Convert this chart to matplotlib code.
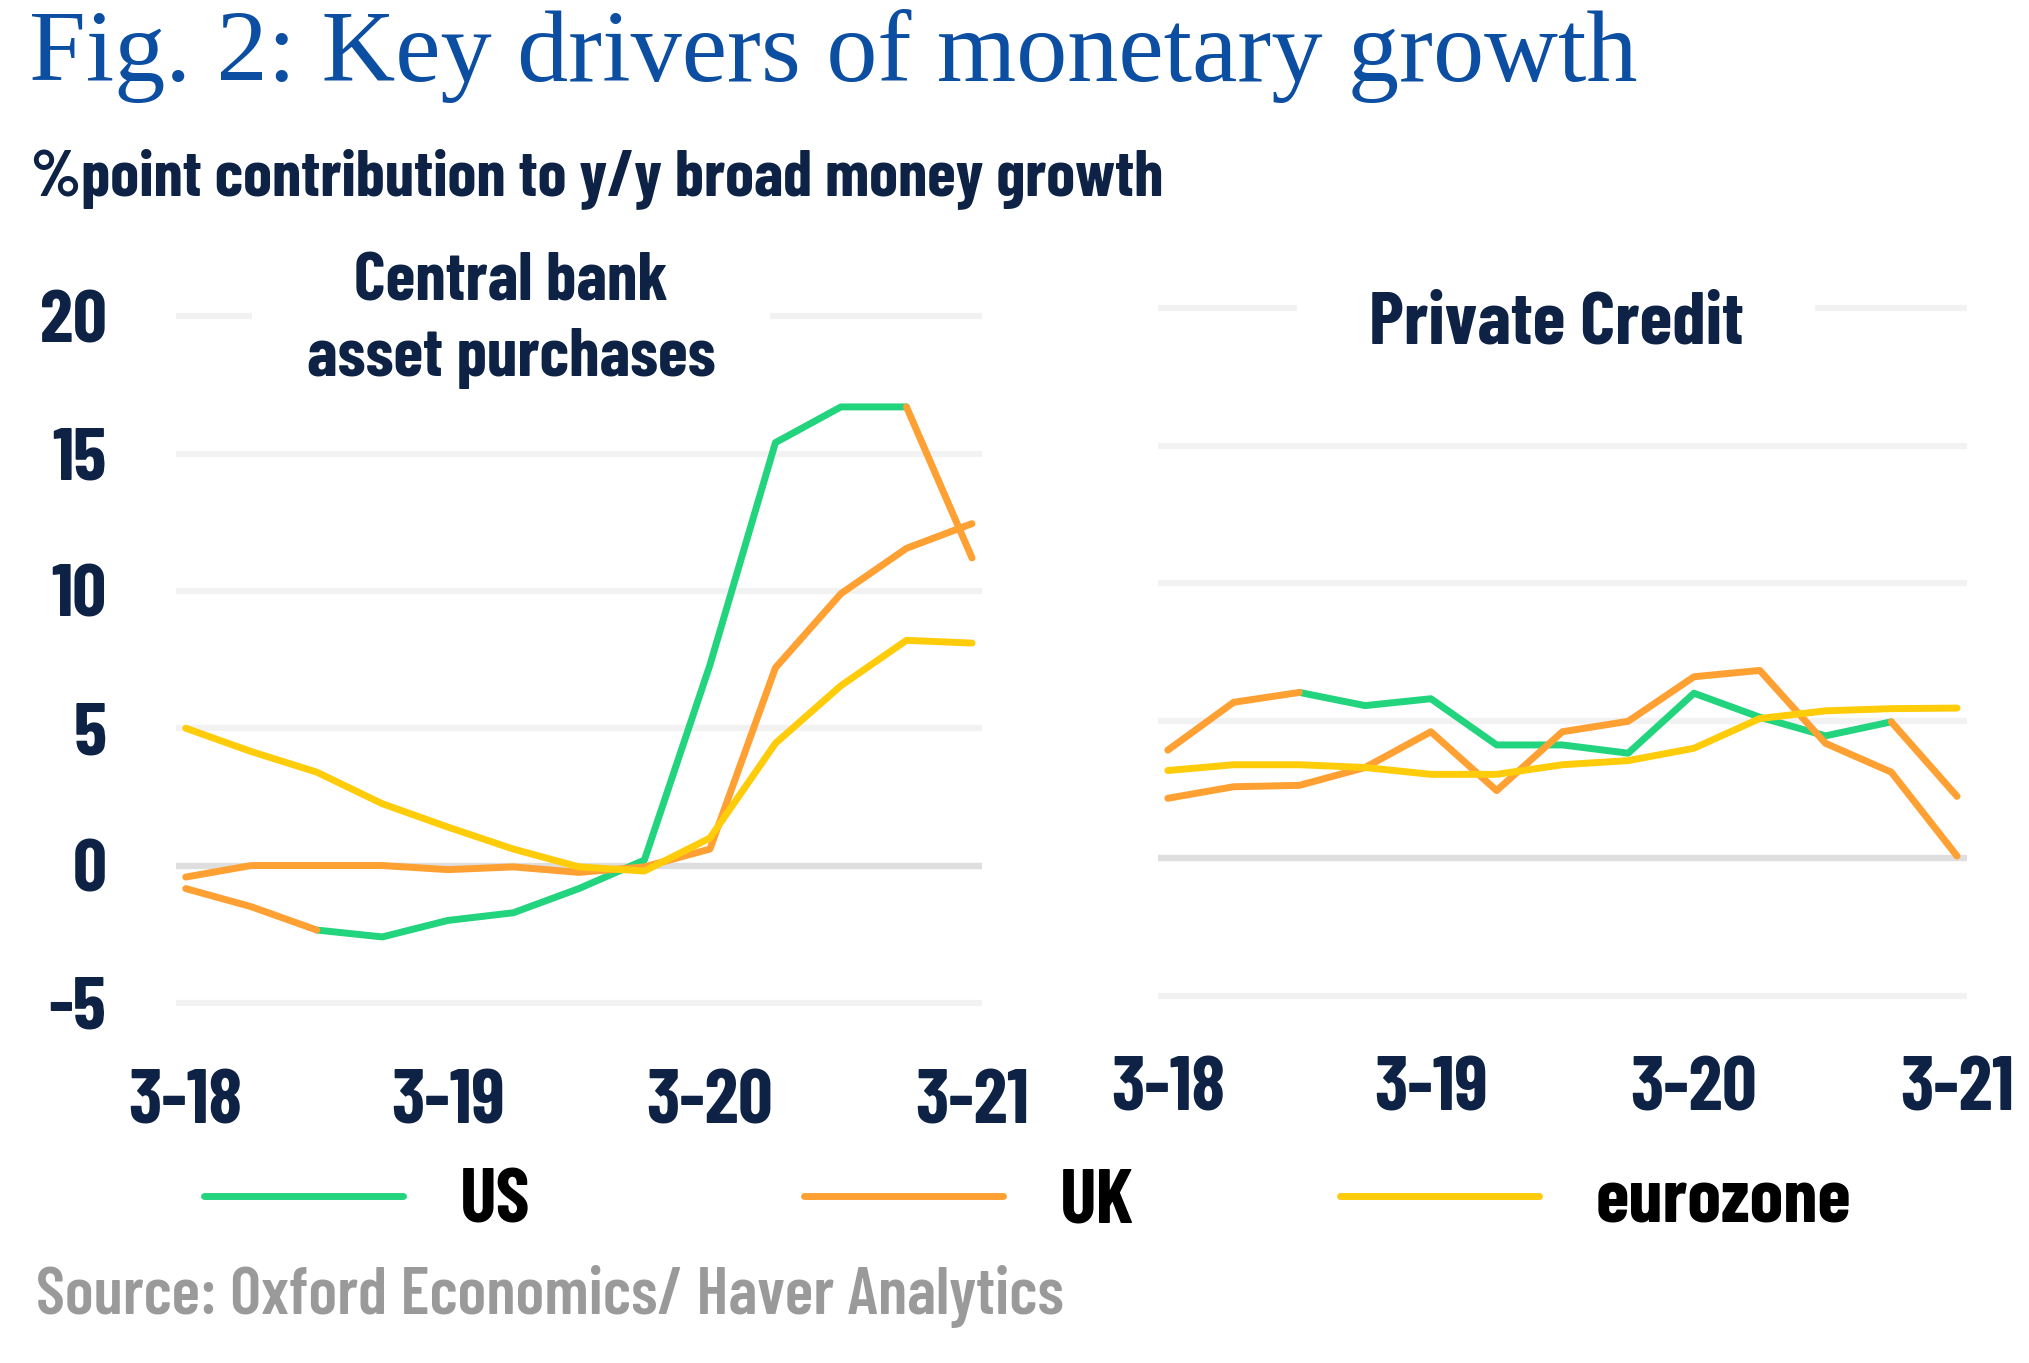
import matplotlib
matplotlib.use('Agg')
import matplotlib.pyplot as plt

# Quarter labels (month-year), 2018Q1 .. 2021Q1
quarters = ['3-18', '6-18', '9-18', '12-18', '3-19', '6-19', '9-19', '12-19',
            '3-20', '6-20', '9-20', '12-20', '3-21']

# Central bank asset purchases (%pt contribution)
cb_us = [-0.84, -1.5, -2.35, -2.6, -2.0, -1.72, -0.84, 0.2, 7.3, 15.4, 16.7, 16.7, 11.2]
cb_uk = [-0.42, 0.0, 0.0, 0.0, -0.15, -0.05, -0.25, -0.05, 0.6, 7.2, 9.9, 11.55, 12.45]
cb_ez = [5.0, 4.15, 3.4, 2.25, 1.4, 0.6, -0.05, -0.2, 1.0, 4.45, 6.55, 8.2, 8.1]

# Private credit (%pt contribution)
pc_us = [3.93, 5.67, 6.03, 5.55, 5.8, 4.12, 4.12, 3.82, 6.0, 5.13, 4.45, 4.96, 2.25]
pc_uk = [2.18, 2.6, 2.65, 3.3, 4.6, 2.46, 4.6, 4.98, 6.6, 6.83, 4.18, 3.13, 0.08]
pc_ez = [3.19, 3.4, 3.4, 3.3, 3.05, 3.05, 3.4, 3.55, 4.0, 5.08, 5.36, 5.44, 5.46]

series_names = ['US', 'UK', 'eurozone']
yticks = [-5, 0, 5, 10, 15, 20]

GREEN = '#22D47D'
ORANGE = '#FFA033'
YELLOW = '#FFCC0A'
NAVY = '#0D2244'
BLUE = '#0B4EA2'

plt.rcParams['font.family'] = ['Barlow Condensed', 'DejaVu Sans']
plt.rcParams['font.weight'] = 'bold'
plt.rcParams['axes.unicode_minus'] = False

fig = plt.figure(figsize=(20.29, 13.63), dpi=100)

ax1 = fig.add_axes([0.0867, 0.2582, 0.3972, 0.5158])
ax2 = fig.add_axes([0.5707, 0.2634, 0.3987, 0.5165])

x = list(range(len(quarters)))
lw = 5.0


def draw_panel(ax, us, uk, ez):
    ax.set_xlim(-0.15, 12.15)
    ax.set_ylim(-5.3, 20.3)
    ax.set_yticks(yticks)
    ax.set_xticks(x[::4])
    ax.set_xticklabels(quarters[::4])
    ax.grid(axis='y', color='#F2F2F2', lw=4.5)
    ax.grid(axis='x', visible=False)
    ax.set_axisbelow(True)
    ax.axhline(0, color='#DEDEDE', lw=4.5, zorder=1)
    for s in ax.spines.values():
        s.set_visible(False)
    ax.tick_params(length=0, labelcolor=NAVY, labelsize=55)
    l_us, = ax.plot(x[2:12], us[2:12], color=GREEN, lw=lw, solid_capstyle='round', zorder=2)
    l_uk, = ax.plot(x, uk, color=ORANGE, lw=lw, solid_capstyle='round', zorder=3)
    # first and last US segments show in orange in the original
    ax.plot(x[:3], us[:3], color=ORANGE, lw=lw, solid_capstyle='round', zorder=3)
    ax.plot(x[11:], us[11:], color=ORANGE, lw=lw, solid_capstyle='round', zorder=3)
    l_ez, = ax.plot(x, ez, color=YELLOW, lw=lw, solid_capstyle='round', zorder=4)
    return l_us, l_uk, l_ez


lines = draw_panel(ax1, cb_us, cb_uk, cb_ez)
draw_panel(ax2, pc_us, pc_uk, pc_ez)

ax1.tick_params(axis='y', pad=50, labelsize=54)
ax1.tick_params(axis='x', pad=42)
ax2.tick_params(axis='y', labelleft=False)
ax2.tick_params(axis='x', pad=38)

box1 = dict(boxstyle='square,pad=0.8', fc='white', ec='none', mutation_aspect=0.25)
box2 = dict(boxstyle='square,pad=0.96', fc='white', ec='none', mutation_aspect=0.2)
ax1.text(0.416, 0.9815, 'Central bank\nasset purchases', transform=ax1.transAxes,
         ha='center', va='center', multialignment='center', fontsize=49,
         color=NAVY, linespacing=1.3, bbox=box1, zorder=5)
ax2.text(0.492, 0.965, 'Private Credit', transform=ax2.transAxes,
         ha='center', va='center', fontsize=54, color=NAVY, bbox=box2, zorder=5)

# titles
fig.text(29 / 2029, 1 - 81 / 1363, 'Fig. 2: Key drivers of monetary growth',
         family='Liberation Serif', weight='normal', fontsize=73.5, color=BLUE,
         va='baseline', ha='left')
fig.text(31 / 2029, 1 - 195 / 1363, '%point contribution to y/y broad money growth',
         fontsize=47, color=NAVY, va='baseline', ha='left')
fig.text(36 / 2029, 1 - 1314 / 1363, 'Source: Oxford Economics/ Haver Analytics',
         fontsize=48, weight='semibold', color='#9A9A9A', va='baseline', ha='left')

# legend, one entry at a time to match the spacing
leg_x = [0.1005, 0.3963, 0.6604]
for ln, lab, lx in zip(lines, series_names, leg_x):
    fig.legend(handles=[ln], labels=[lab], loc='center left',
               bbox_to_anchor=(lx, 0.1174), frameon=False, fontsize=55,
               handlelength=2.6, handletextpad=0.75, borderpad=0,
               borderaxespad=0, labelcolor='black')

fig.savefig('out.png', dpi=100)
